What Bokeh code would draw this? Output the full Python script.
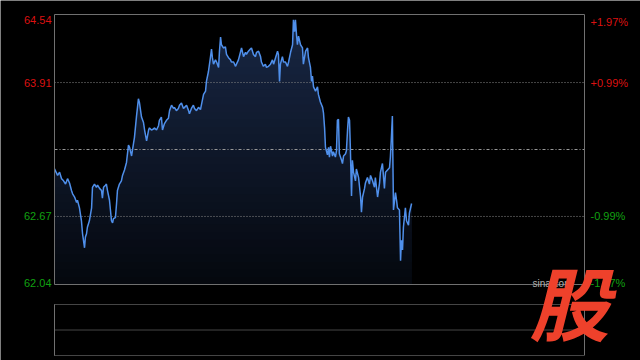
import numpy as np
from bokeh.plotting import figure
from bokeh.models import Range1d
from bokeh.embed import file_html
from bokeh.resources import INLINE
from bokeh.core.properties import value

# ---------------- data ----------------
minutes = [0, 1.4, 2.3, 3.2, 4.1, 5.0, 5.9, 6.8, 7.7, 8.2, 9.1, 10.0, 10.4, 11.3, 12.2, 12.7, 13.6, 14.0, 14.5, 14.9,
           15.8, 16.8, 17.2, 18.1, 19.0, 19.5, 20.4, 21.3, 21.7, 22.2, 23.1, 23.5, 24.0, 24.9, 25.8, 26.3, 26.7, 27.6,
           28.1, 28.5, 29.4, 30.3, 30.8, 31.7, 32.6, 33.5, 34.0, 34.9, 35.8, 36.2, 37.1, 38.0, 38.5, 39.4, 40.3, 40.8,
           41.7, 42.6, 43.0, 43.9, 44.8, 45.3, 46.2, 47.1, 47.5, 48.4, 48.9, 49.8, 50.7, 51.6, 52.1, 53.0, 53.9, 54.3,
           55.2, 56.1, 56.6, 57.5, 58.4, 58.9, 59.8, 60.7, 61.1, 62.0, 62.9, 63.4, 64.3, 65.2, 66.1, 66.6, 67.5, 68.4,
           68.8, 69.7, 70.6, 71.1, 71.5, 72.0, 72.9, 73.4, 74.3, 74.7, 75.2, 75.6, 76.5, 77.4, 77.9, 78.8, 79.7, 80.1,
           81.1, 82.0, 82.4, 83.3, 84.2, 84.7, 85.6, 86.5, 86.9, 87.8, 88.7, 89.2, 90.1, 91.0, 91.5, 92.4, 93.3, 93.7,
           94.6, 95.5, 96.0, 96.9, 97.8, 98.7, 99.2, 100.1, 101.0, 101.4, 101.9, 102.3, 103.2, 103.7, 104.6, 105.5,
           106.0, 106.9, 107.8, 108.2, 108.7, 109.1, 109.6, 110.0, 110.5, 111.4, 112.3, 112.7, 113.7, 114.6, 115.0,
           115.9, 116.4, 116.8, 117.3, 118.2, 119.1, 119.5, 120.4, 121.4, 121.8, 122.3, 122.7, 123.6, 124.1, 124.5,
           125.0, 125.9, 126.3, 127.2, 127.7, 128.1, 128.6, 129.0, 130.0, 130.4, 130.9, 131.8, 132.2, 132.7, 133.1,
           133.6, 134.0, 134.5, 134.9, 135.4, 136.3, 136.7, 137.7, 138.6, 139.0, 139.5, 140.4, 140.8, 141.7, 142.6,
           143.1, 144.0, 144.9, 145.3, 146.3, 147.2, 147.6, 148.5, 149.4, 149.9, 150.8, 151.7, 152.1, 152.6, 153.0,
           153.5, 154.4, 154.9, 155.3, 156.2, 156.7, 157.1, 157.6, 158.0, 158.9, 159.4, 160.3, 160.7, 161.7]

price = [63.11, 63.05, 63.08, 63.02, 63.00, 62.97, 63.02, 62.98, 62.91, 62.88, 62.85, 62.80, 62.82, 62.75, 62.63,
         62.51, 62.38, 62.48, 62.51, 62.57, 62.63, 62.75, 62.94, 62.97, 62.94, 62.96, 62.93, 62.91, 62.84, 62.94,
         62.96, 62.97, 62.91, 62.82, 62.63, 62.61, 62.65, 62.66, 62.79, 62.91, 62.97, 63.00, 63.05, 63.10, 63.17,
         63.33, 63.31, 63.23, 63.35, 63.40, 63.59, 63.76, 63.72, 63.59, 63.54, 63.47, 63.37, 63.47, 63.49, 63.47,
         63.48, 63.49, 63.47, 63.51, 63.56, 63.59, 63.47, 63.53, 63.56, 63.58, 63.65, 63.70, 63.67, 63.68, 63.65,
         63.67, 63.70, 63.72, 63.67, 63.68, 63.70, 63.65, 63.62, 63.67, 63.70, 63.67, 63.65, 63.68, 63.66, 63.71,
         63.80, 63.83, 63.92, 64.01, 64.14, 64.22, 64.14, 64.08, 64.12, 64.10, 64.05, 64.20, 64.33, 64.26, 64.23,
         64.24, 64.17, 64.14, 64.12, 64.10, 64.10, 64.06, 64.08, 64.12, 64.19, 64.23, 64.15, 64.19, 64.17, 64.20,
         64.22, 64.23, 64.17, 64.15, 64.19, 64.20, 64.15, 64.10, 64.06, 64.08, 64.05, 64.06, 64.08, 64.12, 64.08,
         64.14, 64.20, 64.17, 63.92, 64.08, 64.15, 64.10, 64.10, 64.06, 64.10, 64.19, 64.26, 64.49, 64.38, 64.49,
         64.35, 64.26, 64.34, 64.26, 64.23, 64.08, 64.20, 64.23, 64.14, 64.05, 63.92, 63.97, 63.87, 63.83, 63.87,
         63.80, 63.73, 63.68, 63.63, 63.49, 63.31, 63.24, 63.31, 63.22, 63.32, 63.23, 63.27, 63.22, 63.28, 63.56,
         63.57, 63.25, 63.19, 63.16, 63.23, 63.25, 63.28, 63.47, 63.59, 63.56, 63.28, 62.86, 63.19, 63.08, 63.00,
         63.11, 63.03, 62.85, 62.71, 62.85, 62.93, 62.98, 63.03, 62.97, 63.05, 63.00, 62.94, 63.03, 62.85, 62.98,
         63.08, 63.16, 62.93, 63.08, 63.10, 63.12, 63.22, 63.42, 63.60, 62.73, 62.89, 62.82, 62.75, 62.73, 62.26,
         62.45, 62.36, 62.57, 62.75, 62.63, 62.59, 62.70, 62.79]

price_ticks = [62.04, 62.67, 63.91, 64.54]
price_labels = ["62.04", "62.67", "63.91", "64.54"]
pct_labels = ["-1.97%", "-0.99%", "+0.99%", "+1.97%"]
prev_close = 63.29
session_minutes = 240
vol_grid = [0.0, 0.5, 1.0]

# ---------------- layout (pixels) ----------------
W, H = 640, 360
L, R, T, B = 54, 584, 14, 284       # price panel
VT, VB = 304, 355                   # volume panel

xpp = session_minutes / (R - L)
x_start = -L * xpp
x_end = session_minutes + (W - R) * xpp
lo, hi = price_ticks[0], price_ticks[-1]
ypp = (hi - lo) / (B - T)
y_end = hi + T * ypp
y_start = hi - (H - T) * ypp
vpp = 1.0 / (VB - VT)
v_end = VB * vpp
v_start = -(H - VB) * vpp


def px_x(px):
    return x_start + px * xpp


def px_y(py):
    return y_end - py * ypp


p = figure(width=W, height=H, x_range=Range1d(x_start, x_end), y_range=Range1d(y_start, y_end),
           min_border=0, x_axis_type=None, y_axis_type=None, toolbar_location=None,
           output_backend="svg", background_fill_color="black", border_fill_color="black",
           outline_line_color=None)
p.extra_y_ranges = {"vol": Range1d(v_start, v_end)}

# gradient area under the price line (stacked opaque bands)
pr = np.array(price)
n_bands = 36
levels = np.linspace(lo, hi, n_bands + 1)
c_bot = np.array([5, 8, 14])
c_top = np.array([25, 40, 70])
for j in range(n_bands - 1, -1, -1):
    t = (j + 0.5) / n_bands
    c = (c_bot + (c_top - c_bot) * t).astype(int)
    p.varea(x=minutes, y1=lo, y2=np.minimum(pr, levels[j + 1]),
            fill_color="#%02x%02x%02x" % tuple(c))

# grid lines
p.segment(x0=[0, 0], x1=[session_minutes] * 2, y0=[price_ticks[1], price_ticks[2]],
          y1=[price_ticks[1], price_ticks[2]], line_color="#8a8a8a", line_dash="1 2", line_width=1)
p.segment(x0=[0], x1=[session_minutes], y0=[prev_close], y1=[prev_close],
          line_color="#9a9a9a", line_dash="3 2 1 2", line_width=1)

# price line
p.line(minutes, price, line_color="#4f8fea", line_width=1.5)

# price panel frame
p.quad(left=[0], right=[session_minutes], bottom=[lo], top=[hi], fill_color=None,
       line_color="#707070", line_width=1)

# volume panel
p.segment(x0=[0] * 3, x1=[session_minutes] * 3, y0=vol_grid, y1=vol_grid, y_range_name="vol",
          line_color="#8a8a8a", line_dash="1 1", line_width=1)
p.segment(x0=[0, session_minutes], x1=[0, session_minutes], y0=[0, 0], y1=[1, 1], y_range_name="vol",
          line_color="#707070", line_width=1)

# axis labels
red, green = "#dd1111", "#11a011"
lab_colors = [green, green, red, red]
baselines = ["alphabetic", "middle", "middle", "top"]
yoffs = [-2, 0, 0, 1]
p.text(x=[0] * 4, y=price_ticks, text=price_labels, x_offset=-3, y_offset=yoffs,
       text_align="right", text_baseline=baselines, text_color=lab_colors,
       text_font=value("Liberation Sans"), text_font_size="11px")
p.text(x=[session_minutes] * 4, y=price_ticks, text=pct_labels, x_offset=6, y_offset=yoffs,
       text_align="left", text_baseline=baselines, text_color=lab_colors,
       text_font=value("Liberation Sans"), text_font_size="11px")

# watermark
p.text(x=[px_x(532)], y=[px_y(283)], text=["sina.com"], text_align="left", text_baseline="alphabetic",
       text_color="#b0b0b0", text_font=value("Liberation Sans"), text_font_size="10px")
p.text(x=[px_x(569)], y=[px_y(299)], text=["股"], text_align="center", text_baseline="middle",
       text_color="#ee412b", text_font=value("Noto Sans CJK SC"), text_font_style="bold italic",
       text_font_size="80px")

open("out.html", "w").write(file_html(p, INLINE))
